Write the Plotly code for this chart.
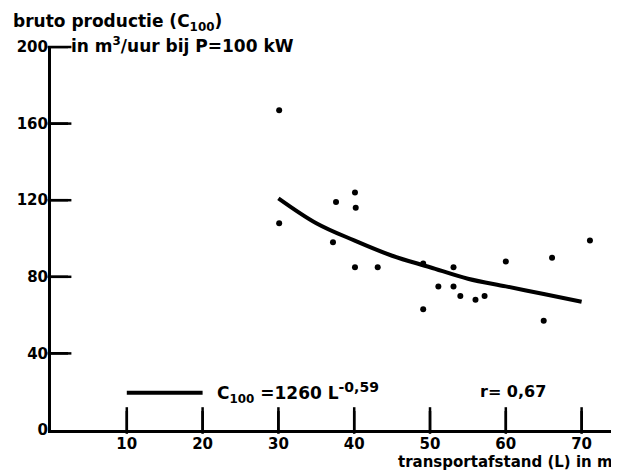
import plotly.graph_objects as go

# Scatter data (transport distance L in m, gross production C100 in m3/h)
L_points = [30.1, 30.1, 37.2, 37.6, 40.1, 40.2, 40.1, 43.1, 49.1, 49.1, 51.1, 53.1, 53.1,
            54.0, 56.0, 57.2, 60.0, 65.0, 66.1, 71.1]
C_points = [167, 108, 98, 119, 124, 116, 85, 85, 87, 63, 75, 85, 75,
            70, 68, 70, 88, 57, 90, 99]

# Fitted curve
L_curve = [30, 35, 40, 45, 50, 55, 60, 65, 70]
C_curve = [121, 108, 99, 91, 85, 79, 75, 71, 67]

x_ticks = [10, 20, 30, 40, 50, 60, 70]
y_ticks = [0, 40, 80, 120, 160, 200]

legend_x = [10, 20]
legend_y = [19.5, 19.5]

FONT = "DejaVu Sans"
X_RANGE = [0, 74.8]
Y_RANGE = [0, 200]

# page body has an 8px margin: figure is offset by 8px in both directions
OFF = 8
W, H = 619 - OFF, 475 - OFF
L_M, R_M, T_M, B_M = 43, 1, 39, 45
pw = W - L_M - R_M
ph = H - T_M - B_M
x_per_px = (X_RANGE[1] - X_RANGE[0]) / pw
y_per_px = (Y_RANGE[1] - Y_RANGE[0]) / ph

fig = go.Figure()
fig.add_trace(go.Scatter(x=L_curve, y=C_curve, mode="lines", line_shape="spline",
                         line=dict(color="black", width=4), hoverinfo="skip"))
fig.add_trace(go.Scatter(x=L_points, y=C_points, mode="markers",
                         marker=dict(color="black", size=6)))
fig.add_trace(go.Scatter(x=legend_x, y=legend_y, mode="lines",
                         line=dict(color="black", width=4), hoverinfo="skip"))

# inward tick marks as line-shaped markers centred half a tick length inside the axes
fig.add_trace(go.Scatter(x=x_ticks, y=[9.5 * y_per_px] * len(x_ticks), mode="markers",
                         marker=dict(symbol="line-ns", size=19, color="black",
                                     line=dict(color="black", width=2.5)),
                         hoverinfo="skip", cliponaxis=False))
fig.add_trace(go.Scatter(x=[8.5 * x_per_px] * (len(y_ticks) - 1), y=y_ticks[1:], mode="markers",
                         marker=dict(symbol="line-ew", size=17, color="black",
                                     line=dict(color="black", width=2.5)),
                         hoverinfo="skip", cliponaxis=False))

# same tick marks also as shapes
for xt in x_ticks:
    fig.add_shape(type="line", xref="x", yref="y", x0=xt, x1=xt, y0=0, y1=19 * y_per_px,
                  line=dict(color="black", width=2.5), layer="above")
for yt in y_ticks[1:]:
    fig.add_shape(type="line", xref="x", yref="y", x0=0, x1=17 * x_per_px, y0=yt, y1=yt,
                  line=dict(color="black", width=2.5), layer="above")

fig.update_layout(
    width=W, height=H,
    margin=dict(l=L_M, r=R_M, t=T_M, b=B_M),
    paper_bgcolor="white", plot_bgcolor="white",
    showlegend=False,
    font=dict(family=FONT, color="black", size=15, weight="bold"),
)
fig.update_xaxes(range=X_RANGE, tickvals=x_ticks, ticktext=[str(v) for v in x_ticks],
                 ticks="inside", ticklen=18, tickwidth=2, tickcolor="black",
                 showline=True, linecolor="black", linewidth=3, showgrid=False,
                 zeroline=False, ticklabelstandoff=-2,
                 tickfont=dict(size=15, family=FONT, weight="bold"))
fig.update_yaxes(range=Y_RANGE, tickvals=y_ticks, ticktext=[str(v) for v in y_ticks],
                 ticks="inside", ticklen=17, tickwidth=2, tickcolor="black",
                 showline=True, linecolor="black", linewidth=3, showgrid=False,
                 zeroline=False, ticklabelstandoff=-3,
                 tickfont=dict(size=15, family=FONT, weight="bold"))

# helpers taking page pixel coordinates
def px(xp):
    return (xp - OFF - L_M) / pw

def py(yp):
    return (H - B_M - (yp - OFF)) / ph

fig.add_annotation(text="bruto productie (C<sub>100</sub>)", x=px(11), y=py(22),
                   xref="paper", yref="paper", xanchor="left", yanchor="middle",
                   showarrow=False, font=dict(size=17, family=FONT, weight="bold"))
fig.add_annotation(text="in m<sup>3</sup>/uur bij P=100 kW", x=px(69), y=py(45),
                   xref="paper", yref="paper", xanchor="left", yanchor="middle",
                   showarrow=False, font=dict(size=17, family=FONT, weight="bold"))
fig.add_annotation(text="C<sub>100</sub> =1260 L<sup><span style='font-size:14px'>-0,59</span></sup>",
                   x=21.6, y=19.5,
                   xref="x", yref="y", xanchor="left", yanchor="middle",
                   showarrow=False, font=dict(size=17, family=FONT, weight="bold"))
fig.add_annotation(text="r= 0,67", x=56.3, y=20,
                   xref="x", yref="y", xanchor="left", yanchor="middle",
                   showarrow=False, font=dict(size=16, family=FONT, weight="bold"))
fig.add_annotation(text="transportafstand (L) in m", x=px(615), y=py(473),
                   xref="paper", yref="paper", xanchor="right", yanchor="bottom",
                   showarrow=False, font=dict(size=15, family=FONT, weight="bold"))

fig.write_html("out.html")
